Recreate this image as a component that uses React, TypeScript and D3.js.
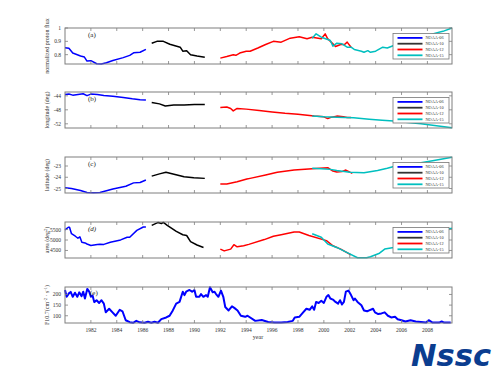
import React from "react";
import * as d3 from "d3";

type Pt = [number, number];

const satellites = ["NOAA-06", "NOAA-10", "NOAA-12", "NOAA-15"];
const satColors = ["#0000ff", "#000000", "#ff0000", "#00bfbf"];
const xTickYears = [1982, 1984, 1986, 1988, 1990, 1992, 1994, 1996, 1998, 2000, 2002, 2004, 2006, 2008];

const fluxN06: Pt[] = [[1980, 0.851], [1980.3, 0.848], [1980.6, 0.812], [1981.2, 0.79], [1981.5, 0.782], [1981.7, 0.752], [1982, 0.755], [1982.45, 0.732], [1982.8, 0.73], [1983.2, 0.74], [1983.7, 0.756], [1984.5, 0.778], [1985.0, 0.795], [1985.3, 0.814], [1985.8, 0.818], [1986.25, 0.84]];
const fluxN10: Pt[] = [[1986.7, 0.886], [1987.1, 0.9], [1987.6, 0.9], [1988.1, 0.878], [1988.9, 0.856], [1989.1, 0.826], [1989.4, 0.83], [1989.7, 0.8], [1990.2, 0.79], [1990.8, 0.78]];
const fluxN12: Pt[] = [[1992.0, 0.774], [1992.5, 0.786], [1993.0, 0.8], [1993.2, 0.795], [1993.5, 0.812], [1994.0, 0.826], [1994.3, 0.826], [1994.9, 0.85], [1995.5, 0.876], [1996.1, 0.9], [1996.7, 0.894], [1997.4, 0.924], [1998.1, 0.934], [1998.7, 0.919], [1999.1, 0.931], [1999.8, 0.919], [2000.1, 0.956], [2000.3, 0.919], [2000.7, 0.881], [2000.9, 0.861], [2001.3, 0.876], [2001.6, 0.876], [2001.8, 0.894], [2002.1, 0.856]];
const fluxN15: Pt[] = [[1999.1, 0.924], [1999.4, 0.956], [1999.8, 0.931], [2000.3, 0.914], [2000.5, 0.906], [2000.7, 0.864], [2001.0, 0.886], [2001.4, 0.881], [2001.8, 0.856], [2002.1, 0.856], [2002.35, 0.839], [2002.9, 0.826], [2003.1, 0.818], [2003.4, 0.83], [2003.6, 0.818], [2004.0, 0.826], [2004.55, 0.856], [2004.9, 0.85], [2005.4, 0.869], [2006.2, 0.89], [2007.2, 0.92], [2008.4, 0.956], [2009.2, 0.975], [2009.9, 1.0]];

const lonN06: Pt[] = [[1980, -43.6], [1980.3, -43.5], [1980.6, -43.8], [1981, -43.6], [1981.4, -43.4], [1981.7, -43.95], [1982, -43.5], [1982.5, -43.6], [1983, -43.9], [1983.7, -44.1], [1984.5, -44.5], [1985.2, -44.85], [1985.8, -45.1], [1986.25, -45.2]];
const lonN10: Pt[] = [[1986.7, -45.9], [1987.3, -46.3], [1987.75, -46.9], [1988.4, -46.6], [1989.2, -46.6], [1990.0, -46.5], [1990.8, -46.5]];
const lonN12: Pt[] = [[1992, -47.3], [1992.5, -47.2], [1992.8, -47.6], [1993, -48.3], [1993.3, -47.6], [1994, -47.8], [1995, -48.2], [1996, -48.6], [1997, -49.0], [1998, -49.3], [1999.25, -49.8], [2000.0, -50.0], [2000.3, -50.5], [2000.6, -50.1], [2001, -49.8], [2001.5, -50.0], [2001.8, -50.2], [2002.1, -50.2]];
const lonN15: Pt[] = [[1999.1, -49.8], [2000, -50.0], [2001, -50.1], [2002.3, -50.3], [2003.5, -50.7], [2004.5, -51.0], [2005.4, -51.2], [2006.5, -51.6], [2007.5, -52.0], [2008.4, -52.4], [2009.9, -53.1]];

const latN06: Pt[] = [[1980, -24.94], [1980.5, -25.0], [1981.2, -25.17], [1981.7, -25.35], [1982.2, -25.38], [1982.7, -25.35], [1983.7, -25.05], [1984.7, -24.8], [1985.3, -24.5], [1985.8, -24.47], [1986.25, -24.25]];
const latN10: Pt[] = [[1986.7, -23.9], [1987.3, -23.7], [1987.8, -23.56], [1988.5, -23.75], [1989.2, -23.95], [1989.95, -24.04], [1990.8, -24.1]];
const latN12: Pt[] = [[1992, -24.6], [1992.5, -24.6], [1993.3, -24.4], [1994.05, -24.16], [1994.3, -24.1], [1995.5, -23.8], [1996.4, -23.56], [1997.7, -23.36], [1999.1, -23.24], [2000.3, -23.15], [2000.7, -23.45], [2001.0, -23.54], [2001.4, -23.5], [2001.7, -23.36], [2002.2, -23.65]];
const latN15: Pt[] = [[1999.1, -23.2], [1999.8, -23.25], [2000.5, -23.3], [2001, -23.4], [2002.0, -23.56], [2003.1, -23.6], [2004.15, -23.4], [2004.9, -23.2], [2005.4, -23.05], [2006.5, -22.85], [2007.5, -22.7], [2008.4, -22.53], [2009.9, -22.22]];

const areaN06: Pt[] = [[1980, 5480], [1980.26, 5610], [1980.35, 5610], [1980.5, 5300], [1980.8, 5180], [1981.0, 5085], [1981.15, 5150], [1981.3, 4890], [1981.55, 4860], [1981.7, 4810], [1982, 4740], [1982.5, 4790], [1982.7, 4800], [1983.0, 4790], [1983.5, 4890], [1984.3, 5005], [1984.8, 5130], [1985.0, 5130], [1985.55, 5460], [1986.05, 5620], [1986.25, 5620]];
const areaN10: Pt[] = [[1986.7, 5700], [1987.2, 5840], [1987.45, 5790], [1987.6, 5840], [1987.9, 5700], [1988.6, 5410], [1989.1, 5250], [1989.4, 5215], [1989.7, 4920], [1990.2, 4760], [1990.7, 4640]];
const areaN12: Pt[] = [[1992.0, 4565], [1992.3, 4480], [1992.8, 4565], [1993.05, 4775], [1993.3, 4675], [1993.8, 4725], [1994.2, 4790], [1995.4, 5020], [1996.1, 5180], [1996.7, 5250], [1997.7, 5380], [1998.1, 5380], [1998.85, 5215], [2000.2, 4970], [2000.7, 4725], [2001.3, 4565], [2002.1, 4285]];
const areaN15: Pt[] = [[1999.1, 5300], [1999.8, 5130], [2000.3, 4810], [2001, 4645], [2001.8, 4400], [2002.6, 4150], [2003.3, 4150], [2003.6, 4200], [2004.3, 4370], [2004.7, 4565], [2005.4, 4645], [2006.5, 4900], [2007.5, 5150], [2008.5, 5350], [2009.7, 5540], [2009.9, 5560]];

const f107Series: Pt[] = [
  [1980.0, 221], [1980.13, 189], [1980.3, 205], [1980.44, 212], [1980.6, 189], [1980.77, 208], [1980.95, 189], [1981.1, 210], [1981.28, 192], [1981.41, 213], [1981.54, 181], [1981.72, 226], [1981.87, 213], [1982.0, 189], [1982.13, 195], [1982.26, 164], [1982.44, 173], [1982.64, 160], [1982.82, 173], [1983.0, 157], [1983.15, 116], [1983.41, 133], [1983.67, 116], [1983.92, 100], [1984.23, 128], [1984.44, 121], [1984.69, 79], [1985.0, 70], [1985.26, 67], [1985.51, 76], [1985.77, 69], [1986.15, 67], [1986.41, 72], [1986.67, 67], [1986.92, 72], [1987.18, 67], [1987.44, 84], [1987.82, 92], [1988.08, 100], [1988.33, 125], [1988.59, 157], [1988.85, 165], [1989.1, 213], [1989.23, 197], [1989.36, 213], [1989.62, 221], [1989.82, 213], [1990.0, 221], [1990.13, 189], [1990.38, 189], [1990.51, 202], [1990.69, 189], [1990.9, 197], [1991.03, 189], [1991.2, 234], [1991.41, 210], [1991.54, 213], [1991.67, 202], [1991.85, 189], [1992.05, 218], [1992.23, 189], [1992.38, 141], [1992.64, 125], [1992.9, 144], [1993.08, 137], [1993.33, 125], [1993.59, 100], [1993.92, 95], [1994.1, 100],
  [1994.7, 76], [1995.2, 80], [1995.7, 71], [1996.2, 68], [1996.7, 68], [1997.2, 71], [1997.6, 76], [1997.75, 92], [1998.1, 95], [1998.4, 116], [1998.65, 133], [1998.9, 128], [1999.1, 144], [1999.25, 128], [1999.4, 165], [1999.6, 160], [1999.8, 170], [2000.0, 160], [2000.2, 189], [2000.35, 197], [2000.5, 181], [2000.7, 176], [2000.9, 165], [2001.1, 157], [2001.25, 173], [2001.4, 153], [2001.55, 165], [2001.7, 213], [2001.9, 218], [2002.1, 197], [2002.3, 173], [2002.4, 181], [2002.6, 165], [2002.9, 149], [2003.1, 125], [2003.35, 121], [2003.5, 125], [2003.8, 133], [2003.95, 116], [2004.2, 108], [2004.45, 111], [2004.7, 116], [2004.95, 100], [2005.2, 92], [2005.5, 95], [2005.7, 84], [2006.0, 79], [2006.3, 73], [2006.7, 79], [2007.1, 73], [2007.5, 71], [2007.9, 68], [2008.1, 79], [2008.4, 68], [2008.9, 68], [2009.1, 73], [2009.3, 68], [2009.8, 68]
];

const fluxTicks = [0.8, 0.9, 1];
const lonTicks = [-52, -48, -44];
const latTicks = [-25, -24, -23];
const areaTicks = [4500, 5000, 5500];
const f107Ticks = [100, 150, 200];

const X0 = 65, X1 = 452, PH = 36;
const SERIF = "'Liberation Serif', 'Times New Roman', serif";

const x = d3.scaleLinear().domain([1980, 2009.9]).range([X0, X1]);

interface PanelDef {
  top: number;
  domain: [number, number];
  ticks: number[];
  tickFmt: (v: number) => string;
  label: React.ReactNode;
  tag: string;
  series: Pt[][];
  colors: string[];
  legend: boolean;
  width: number;
}

const panels: PanelDef[] = [
  { top: 28, domain: [0.73, 1.0], ticks: fluxTicks, tickFmt: (v) => (v === 1 ? "1" : v.toFixed(1)), label: "normalized proton flux", tag: "(a)", series: [fluxN06, fluxN10, fluxN12, fluxN15], colors: satColors, legend: true, width: 1.5 },
  { top: 92, domain: [-53.2, -42.9], ticks: lonTicks, tickFmt: (v) => String(v), label: "longitude (deg)", tag: "(b)", series: [lonN06, lonN10, lonN12, lonN15], colors: satColors, legend: true, width: 1.5 },
  { top: 157, domain: [-25.4, -22.2], ticks: latTicks, tickFmt: (v) => String(v), label: "latitude (deg)", tag: "(c)", series: [latN06, latN10, latN12, latN15], colors: satColors, legend: true, width: 1.5 },
  { top: 222, domain: [4140, 5860], ticks: areaTicks, tickFmt: (v) => String(v), label: (<>area (deg<tspan dy={-2} fontSize={4.5}>2</tspan><tspan dy={2}>)</tspan></>), tag: "(d)", series: [areaN06, areaN10, areaN12, areaN15], colors: satColors, legend: true, width: 1.5 },
  { top: 287, domain: [66, 235], ticks: f107Ticks, tickFmt: (v) => String(v), label: (<>F10.7(cm<tspan dy={-2} fontSize={4.5}>-2</tspan><tspan dy={2}> · s</tspan><tspan dy={-2} fontSize={4.5}>-1</tspan><tspan dy={2}>)</tspan></>), tag: "(e)", series: [f107Series], colors: ["#0000ff"], legend: false, width: 2 },
];

function Panel({ p, last }: { p: PanelDef; last: boolean }) {
  const y = d3.scaleLinear().domain(p.domain).range([p.top + PH, p.top]);
  const line = d3.line<Pt>().x((d) => x(d[0])).y((d) => y(d[1]));
  const axisColor = "#7f7f7f";
  const mid = p.top + PH / 2;
  const lgX = 393, lgY = p.top + 5.5, lgW = 56, lgH = 25.5;
  return (
    <g>
      <defs>
        <clipPath id={`clip-${p.tag}`}>
          <rect x={X0} y={p.top} width={X1 - X0} height={PH} />
        </clipPath>
      </defs>
      <g clipPath={`url(#clip-${p.tag})`}>
        {p.series.map((s, i) => (
          <path key={i} d={line(s) || ""} fill="none" stroke={p.colors[i]} strokeWidth={p.width} strokeLinejoin="round" />
        ))}
      </g>
      <rect x={X0} y={p.top} width={X1 - X0} height={PH} fill="none" stroke={axisColor} strokeWidth={1} />
      {xTickYears.map((t) => (
        <g key={t}>
          <line x1={x(t)} x2={x(t)} y1={p.top} y2={p.top + 3} stroke={axisColor} strokeWidth={0.8} />
          <line x1={x(t)} x2={x(t)} y1={p.top + PH} y2={p.top + PH - 3} stroke={axisColor} strokeWidth={0.8} />
          {last && (
            <text x={x(t)} y={p.top + PH + 9} fontSize={5.5} textAnchor="middle" fontFamily={SERIF} fill="#333">{t}</text>
          )}
        </g>
      ))}
      {p.ticks.map((t) => (
        <g key={t}>
          <line x1={X0} x2={X0 + 3} y1={y(t)} y2={y(t)} stroke={axisColor} strokeWidth={0.8} />
          <line x1={X1} x2={X1 - 3} y1={y(t)} y2={y(t)} stroke={axisColor} strokeWidth={0.8} />
          <text x={X0 - 4} y={y(t) + 2} fontSize={5.5} textAnchor="end" fontFamily={SERIF} fill="#333">{p.tickFmt(t)}</text>
        </g>
      ))}
      <text transform={`translate(${49},${mid}) rotate(-90)`} fontSize={6} textAnchor="middle" fontFamily={SERIF} fill="#333">{p.label}</text>
      <text x={p.tag === "(e)" ? 90 : 88} y={p.top + (p.tag === "(e)" ? 8 : 9)} fontSize={7} fontFamily={SERIF} fontStyle={p.tag === "(d)" ? "italic" : "normal"} fill="#222">{p.tag}</text>
      {p.legend && (
        <g>
          <rect x={lgX} y={lgY} width={lgW} height={lgH} fill="#fff" stroke="#777" strokeWidth={0.8} />
          {satellites.map((s, i) => (
            <g key={s}>
              <line x1={lgX + 4.5} x2={lgX + 29.5} y1={lgY + 4.4 + i * 5.8} y2={lgY + 4.4 + i * 5.8} stroke={i === 1 ? "#333" : satColors[i]} strokeWidth={1.8} />
              <text x={lgX + 32.5} y={lgY + 5.9 + i * 5.8} fontSize={4.3} fontFamily={SERIF} fill="#333">{s}</text>
            </g>
          ))}
        </g>
      )}
    </g>
  );
}

export default function App() {
  return (
    <svg width={500} height={375} style={{ position: "absolute", left: 0, top: 0, background: "#fff" }}>
      <rect x={0} y={0} width={500} height={375} fill="#fff" />
      {panels.map((p, i) => (
        <Panel key={p.tag} p={p} last={i === panels.length - 1} />
      ))}
      <text x={258} y={339} fontSize={6} textAnchor="middle" fontFamily={SERIF} fill="#333">year</text>
      <text x={411} y={366} fontSize={31} fontWeight="bold" fontStyle="italic" fontFamily="'DejaVu Sans', sans-serif" fill="#0b3d8f" textLength={80} lengthAdjust="spacingAndGlyphs">Nssc</text>
    </svg>
  );
}
